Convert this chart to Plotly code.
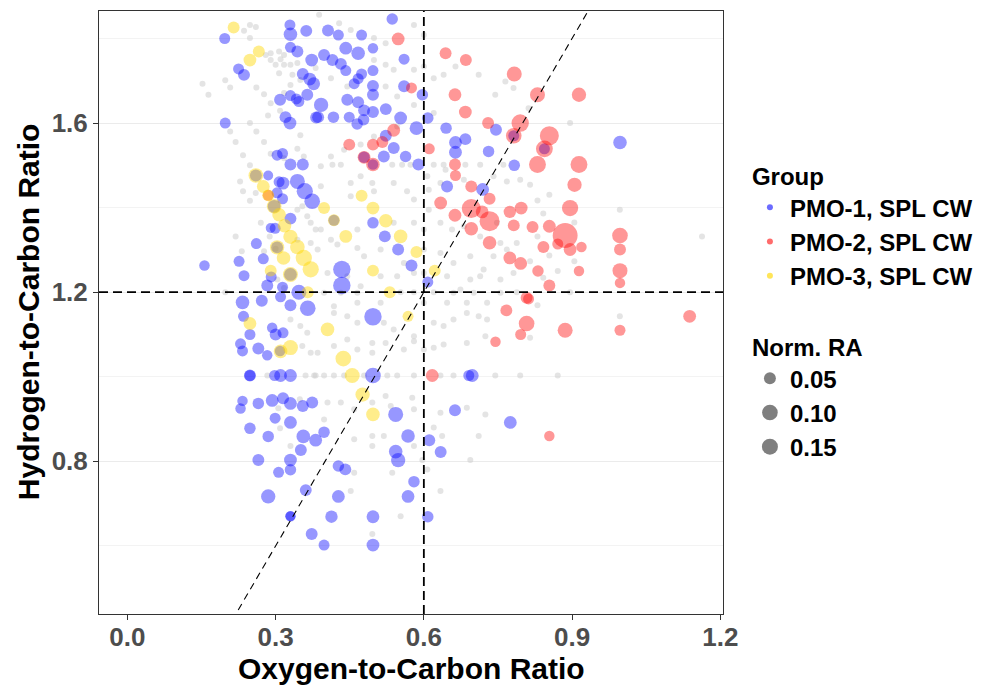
import math
import plotly.graph_objects as go

# ---------------- data ----------------
# background (all detected formulas), grey
bg_oc = [0.248, 0.260, 0.236, 0.248, 0.290, 0.307, 0.317, 0.280, 0.290, 0.310, 0.317, 0.300, 0.330, 0.344,
         0.334, 0.307, 0.350, 0.330, 0.317, 0.152, 0.164, 0.198, 0.208, 0.261, 0.2765, 0.290, 0.309, 0.2846,
         0.248, 0.208, 0.261, 0.219, 0.2765, 0.234, 0.290, 0.248, 0.317, 0.344, 0.350, 0.357, 0.228, 0.234,
         0.248, 0.2597, 0.270, 0.288, 0.219, 0.2315, 0.2765, 0.300, 0.3034, 0.317, 0.198, 0.344, 0.354, 0.364,
         0.371, 0.381, 0.344, 0.371,
         0.388, 0.4285, 0.452, 0.499, 0.5226, 0.580, 0.600, 0.499, 0.5226, 0.539, 0.580, 0.381, 0.412, 0.445,
         0.5226, 0.546, 0.600, 0.620, 0.640, 0.664, 0.711, 0.7445, 0.765, 0.7815, 0.580, 0.620, 0.546, 0.499,
         0.472, 0.4386, 0.412, 0.3915, 0.415, 0.432, 0.536, 0.556, 0.573, 0.620, 0.640, 0.684, 0.714, 0.761,
         0.452, 0.472, 0.4957, 0.539, 0.566, 0.607, 0.610, 0.6336, 0.644, 0.681, 0.741, 0.768, 0.795, 0.3915,
         0.452, 0.499, 0.580, 0.610, 0.6336, 0.657, 0.681, 0.714, 0.748, 0.755, 0.788, 0.3915, 0.412, 0.4655,
         0.539, 0.580, 0.600, 0.385, 0.425, 0.4655, 0.479, 0.5125, 0.5596, 0.600, 0.6336, 0.660, 0.694, 0.721,
         0.741, 0.768, 0.405, 0.445, 0.472, 0.5125, 0.546, 0.580, 0.600, 0.647, 0.674, 0.694, 0.714, 0.755,
         0.7815, 0.398, 0.432, 0.4655, 0.553, 0.580, 0.620, 0.660, 0.701, 0.755, 0.788, 0.418, 0.4655, 0.5125,
         0.600, 0.647, 0.687, 0.728,
         0.418, 0.445, 0.4655, 0.519, 0.539, 0.580, 0.620, 0.640, 0.660, 0.687, 0.711, 0.728, 0.385, 0.418,
         0.445, 0.4655, 0.4957, 0.4957, 0.5226, 0.5596, 0.580, 0.600, 0.620, 0.640, 0.687, 0.7245, 0.378,
         0.398, 0.418, 0.4386, 0.479, 0.526, 0.546, 0.580, 0.6336, 0.660, 0.7445, 0.795, 0.405, 0.432, 0.398,
         0.459, 0.4957, 0.5226, 0.533, 0.5765, 0.580, 0.6336, 0.687, 0.7245, 0.459, 0.4957, 0.519, 0.4957,
         0.580, 0.597, 0.620, 0.637, 0.711, 0.694, 0.459, 0.536, 0.607, 0.452, 0.6336, 0.553, 0.4957,
         0.330, 0.350, 0.364, 0.354, 0.371, 0.2832, 0.3606, 0.381, 0.3054, 0.309, 0.330, 0.349,
         0.812, 0.896, 0.815, 0.854, 0.830, 0.8417, 0.9046, 0.9967, 1.163, 0.830, 0.815, 0.871, 0.9046,
         0.8417, 0.896, 0.830, 0.854, 0.9967, 0.815, 0.871]
bg_hc = [1.832, 1.827, 1.818, 1.801, 1.765, 1.769, 1.761, 1.761, 1.749, 1.751, 1.738, 1.738, 1.738, 1.742,
         1.714, 1.718, 1.702, 1.690, 1.671, 1.693, 1.667, 1.701, 1.684, 1.684, 1.668, 1.647, 1.629, 1.618,
         1.600, 1.580, 1.580, 1.555, 1.555, 1.524, 1.5275, 1.500, 1.517, 1.539, 1.571, 1.521, 1.462, 1.4386,
         1.4165, 1.4346, 1.364, 1.332, 1.332, 1.297, 1.297, 1.303, 1.230, 1.210, 1.200, 1.395, 1.403, 1.3795,
         1.364, 1.348, 1.324, 1.3166,
         1.856, 1.836, 1.820, 1.801, 1.789, 1.832, 1.8085, 1.749, 1.738, 1.726, 1.726, 1.730, 1.706, 1.6865,
         1.6865, 1.663, 1.734, 1.706, 1.714, 1.734, 1.714, 1.667, 1.698, 1.683, 1.643, 1.6235, 1.592, 1.568,
         1.549, 1.537, 1.521, 1.4976, 1.5015, 1.5015, 1.5015, 1.5015, 1.5015, 1.5015, 1.5015, 1.5015, 1.5015, 1.5015,
         1.458, 1.474, 1.458, 1.458, 1.4386, 1.474, 1.4425, 1.458, 1.4897, 1.466, 1.474, 1.462, 1.466, 1.4504,
         1.4268, 1.4386, 1.419, 1.395, 1.364, 1.348, 1.356, 1.332, 1.364, 1.3166, 1.3166, 1.348, 1.324, 1.348,
         1.364, 1.364, 1.348, 1.3008, 1.3126, 1.3048, 1.285, 1.3008, 1.269, 1.3008, 1.293, 1.269, 1.285, 1.2536,
         1.285, 1.3008, 1.2457, 1.2379, 1.214, 1.2379, 1.2379, 1.2457, 1.2457, 1.2379, 1.2064, 1.230, 1.2379, 1.230,
         1.2457, 1.1985, 1.1985, 1.1985, 1.200, 1.200, 1.200, 1.1985, 1.1985, 1.1985, 1.200, 1.167, 1.175, 1.175,
         1.175, 1.175, 1.175, 1.175,
         1.151, 1.143, 1.128, 1.128, 1.112, 1.096, 1.128, 1.120, 1.1355, 1.151, 1.143, 1.1355, 1.057, 1.0726,
         1.088, 1.0647, 1.080, 1.057, 1.080, 1.0647, 1.084, 1.0647, 1.0686, 1.0765, 1.080, 1.096, 1.003,
         1.003, 1.003, 1.003, 1.003, 1.003, 1.003, 1.003, 1.003, 1.003, 1.003, 1.003, 0.939, 0.939, 0.899,
         0.923, 0.939, 0.9545, 0.931, 0.9506, 0.923, 0.915, 0.927, 0.911, 0.852, 0.860, 0.860, 0.8364,
         0.8364, 0.803, 0.880, 0.860, 0.860, 0.803, 0.773, 0.773, 0.781, 0.730, 0.730, 0.670, 0.628,
         1.1355, 1.120, 1.104, 1.0726, 1.057, 1.003, 1.003, 1.003, 0.9254, 0.878, 0.8364, 0.9466,
         1.635, 1.600, 1.454, 1.4307, 1.417, 1.386, 1.365, 1.395, 1.332, 1.332, 1.273, 1.250, 1.273,
         1.234, 1.200, 1.169, 1.2867, 1.143, 1.092, 1.003]

# PMO-1, SPL CW (blue)
pmo1_oc = [0.329, 0.330, 0.362, 0.197, 0.330, 0.344, 0.373, 0.225, 0.236, 0.355, 0.369, 0.377, 0.330, 0.342,
           0.347, 0.364, 0.309, 0.320, 0.329, 0.382, 0.198, 0.303, 0.314, 0.330, 0.355, 0.285, 0.260, 0.307,
           0.315, 0.344, 0.359, 0.374, 0.303, 0.314, 0.330, 0.290, 0.299, 0.297, 0.303, 0.330, 0.261, 0.275,
           0.226, 0.156, 0.236, 0.291, 0.283, 0.314, 0.347, 0.233, 0.272, 0.310, 0.330, 0.365, 0.235, 0.248,
           0.293, 0.300, 0.315, 0.229, 0.233, 0.265, 0.283, 0.309, 0.248, 0.248, 0.298, 0.310, 0.330, 0.233,
           0.229, 0.265, 0.293, 0.315, 0.330, 0.355, 0.374, 0.299, 0.330, 0.248, 0.285, 0.356, 0.381, 0.351,
           0.265, 0.330, 0.330, 0.306, 0.285, 0.361, 0.330, 0.330, 0.373, 0.497, 0.497, 0.543, 0.568, 0.398,
           0.543, 0.548, 0.427, 0.441, 0.580, 0.427, 0.568, 0.413, 0.497, 0.608, 0.398, 0.497, 0.611, 0.634,
           0.663, 0.775, 0.691, 0.698, 0.536, 0.406, 0.427, 0.474, 0.442, 0.467, 0.497, 0.398, 0.415, 0.432,
           0.442, 0.560, 0.497, 0.474, 0.467, 0.459, 0.497, 0.497, 0.560, 0.597, 0.445, 0.467, 0.392, 0.479,
           0.497, 0.523, 0.417, 0.449, 0.386, 0.478, 0.465, 0.553, 0.608, 0.585, 0.523, 0.539, 0.519, 0.563,
           0.589, 0.645, 0.664, 0.664, 0.684, 0.746, 0.731, 0.783, 0.647, 0.719, 0.497, 0.521, 0.548, 0.575,
           0.434, 0.434, 0.608, 0.418, 0.997, 0.844, 0.782, 0.479, 0.497]
pmo1_hc = [1.832, 1.810, 1.818, 1.800, 1.779, 1.769, 1.749, 1.728, 1.714, 1.716, 1.704, 1.693, 1.665, 1.657,
           1.651, 1.667, 1.655, 1.614, 1.600, 1.613, 1.600, 1.524, 1.528, 1.502, 1.502, 1.476, 1.476, 1.461,
           1.458, 1.462, 1.439, 1.415, 1.435, 1.421, 1.374, 1.352, 1.351, 1.403, 1.306, 1.242, 1.315, 1.279,
           1.273, 1.263, 1.239, 1.236, 1.216, 1.212, 1.200, 1.176, 1.180, 1.189, 1.169, 1.162, 1.143, 1.100,
           1.116, 1.100, 1.104, 1.078, 1.061, 1.067, 1.051, 1.061, 1.003, 1.003, 1.003, 1.003, 1.003, 0.943,
           0.925, 0.937, 0.944, 0.949, 0.937, 0.931, 0.939, 0.902, 0.892, 0.878, 0.859, 0.859, 0.850, 0.827,
           0.803, 0.803, 0.780, 0.774, 0.717, 0.732, 0.670, 0.670, 0.628, 1.142, 1.003, 0.911, 0.860, 0.869,
           0.823, 0.803, 0.789, 0.781, 0.752, 0.717, 0.717, 0.669, 0.669, 0.669, 0.602, 0.602, 0.850, 0.822,
           0.921, 0.892, 1.003, 1.003, 1.846, 1.819, 1.808, 1.808, 1.777, 1.765, 1.777, 1.761, 1.749, 1.740,
           1.724, 1.751, 1.724, 1.716, 1.705, 1.693, 1.688, 1.667, 1.687, 1.667, 1.655, 1.649, 1.643, 1.630,
           1.626, 1.633, 1.614, 1.614, 1.614, 1.608, 1.598, 1.612, 1.612, 1.588, 1.570, 1.541, 1.521, 1.521,
           1.502, 1.588, 1.554, 1.531, 1.562, 1.584, 1.533, 1.500, 1.450, 1.443, 1.364, 1.332, 1.301, 1.263,
           1.254, 1.216, 1.224, 1.370, 1.554, 1.539, 1.570, 1.519, 1.502]
pmo1_ra = [0.04, 0.07, 0.05, 0.04, 0.04, 0.05, 0.06, 0.04, 0.05, 0.05, 0.06, 0.06, 0.04, 0.04,
           0.04, 0.05, 0.05, 0.05, 0.06, 0.05, 0.04, 0.04, 0.04, 0.05, 0.05, 0.03, 0.05, 0.04,
           0.06, 0.09, 0.11, 0.10, 0.04, 0.04, 0.05, 0.03, 0.04, 0.06, 0.05, 0.06, 0.04, 0.04,
           0.04, 0.035, 0.04, 0.04, 0.05, 0.04, 0.09, 0.07, 0.05, 0.04, 0.05, 0.10, 0.04, 0.04,
           0.035, 0.05, 0.04, 0.04, 0.04, 0.05, 0.035, 0.035, 0.05, 0.04, 0.04, 0.06, 0.06, 0.035,
           0.035, 0.045, 0.06, 0.05, 0.06, 0.05, 0.05, 0.04, 0.06, 0.045, 0.045, 0.07, 0.06, 0.05,
           0.05, 0.06, 0.045, 0.04, 0.08, 0.05, 0.035, 0.03, 0.05, 0.13, 0.10, 0.09, 0.07, 0.045,
           0.07, 0.08, 0.045, 0.05, 0.045, 0.06, 0.06, 0.055, 0.06, 0.045, 0.04, 0.06, 0.05, 0.05,
           0.05, 0.06, 0.04, 0.06, 0.045, 0.05, 0.04, 0.04, 0.06, 0.07, 0.035, 0.05, 0.05, 0.05,
           0.04, 0.04, 0.04, 0.04, 0.04, 0.04, 0.05, 0.05, 0.05, 0.045, 0.05, 0.05, 0.08, 0.05,
           0.05, 0.05, 0.045, 0.04, 0.05, 0.045, 0.045, 0.06, 0.045, 0.07, 0.05, 0.05, 0.05, 0.045,
           0.05, 0.045, 0.06, 0.06, 0.05, 0.05, 0.045, 0.045, 0.05, 0.06, 0.045, 0.05, 0.05, 0.05,
           0.13, 0.13, 0.04, 0.04, 0.07, 0.04, 0.04, 0.045, 0.035]

# PMO-2, SPL CW (red)
pmo2_oc = [0.548, 0.644, 0.685, 0.783, 0.575, 0.663, 0.684, 0.730, 0.795, 0.782, 0.539, 0.449, 0.497, 0.516,
           0.479, 0.497, 0.611, 0.663, 0.664, 0.696, 0.733, 0.634, 0.696, 0.718, 0.733, 0.663, 0.696, 0.733,
           0.774, 0.797, 0.782, 0.774, 0.796, 0.808, 0.767, 0.830, 0.914, 0.854, 0.844, 0.830, 0.914, 0.905,
           0.896, 0.820, 0.854, 0.886, 0.842, 0.871, 0.896, 0.919, 0.997, 0.997, 0.831, 0.914, 0.997, 0.997,
           0.854, 0.812, 0.808, 0.886, 0.997, 1.138, 0.854, 0.617, 0.745, 0.796, 0.285]
pmo2_hc = [1.799, 1.765, 1.749, 1.716, 1.683, 1.667, 1.626, 1.600, 1.600, 1.570, 1.583, 1.549, 1.549, 1.555,
           1.519, 1.502, 1.539, 1.502, 1.476, 1.450, 1.421, 1.411, 1.398, 1.390, 1.368, 1.382, 1.350, 1.317,
           1.390, 1.399, 1.358, 1.281, 1.268, 1.187, 1.157, 1.667, 1.667, 1.570, 1.539, 1.502, 1.502, 1.454,
           1.399, 1.354, 1.356, 1.334, 1.307, 1.314, 1.301, 1.307, 1.334, 1.301, 1.250, 1.250, 1.251, 1.222,
           1.216, 1.184, 1.126, 1.110, 1.110, 1.143, 0.860, 1.003, 1.083, 1.100, 1.429]
pmo2_ra = [0.06, 0.05, 0.05, 0.09, 0.04, 0.06, 0.06, 0.05, 0.13, 0.10, 0.06, 0.05, 0.05, 0.05,
           0.06, 0.07, 0.04, 0.05, 0.04, 0.05, 0.05, 0.06, 0.16, 0.06, 0.18, 0.06, 0.07, 0.07,
           0.055, 0.06, 0.05, 0.06, 0.06, 0.05, 0.05, 0.09, 0.08, 0.16, 0.12, 0.12, 0.12, 0.08,
           0.11, 0.05, 0.06, 0.30, 0.05, 0.04, 0.06, 0.035, 0.10, 0.05, 0.045, 0.035, 0.09, 0.035,
           0.05, 0.04, 0.10, 0.09, 0.04, 0.06, 0.035, 0.06, 0.035, 0.04, 0.04]

# PMO-3, SPL CW (yellow)
pmo3_oc = [0.215, 0.266, 0.248, 0.260, 0.275, 0.285, 0.297, 0.307, 0.318, 0.330, 0.344, 0.357, 0.371, 0.303,
           0.316, 0.330, 0.290, 0.365, 0.248, 0.310, 0.330, 0.568, 0.405, 0.437, 0.455, 0.476, 0.497, 0.474,
           0.398, 0.418, 0.497, 0.523, 0.442, 0.553, 0.585, 0.497, 0.531, 0.622]
pmo3_hc = [1.826, 1.769, 1.749, 1.476, 1.450, 1.429, 1.403, 1.383, 1.357, 1.331, 1.307, 1.281, 1.254, 1.306,
           1.281, 1.242, 1.251, 1.200, 1.126, 1.060, 1.069, 1.143, 1.112, 1.043, 1.003, 0.958, 0.911, 1.428,
           1.399, 1.370, 1.399, 1.369, 1.332, 1.332, 1.295, 1.251, 1.200, 1.251]
pmo3_ra = [0.05, 0.05, 0.06, 0.085, 0.06, 0.05, 0.085, 0.07, 0.07, 0.08, 0.085, 0.11, 0.11, 0.08,
           0.07, 0.09, 0.05, 0.05, 0.06, 0.07, 0.09, 0.04, 0.07, 0.10, 0.09, 0.08, 0.07, 0.05,
           0.05, 0.05, 0.06, 0.07, 0.06, 0.07, 0.05, 0.05, 0.05, 0.05]

group_names = ["PMO-1, SPL CW", "PMO-2, SPL CW", "PMO-3, SPL CW"]
size_breaks = [0.05, 0.10, 0.15]
x_ticks = [0.0, 0.3, 0.6, 0.9, 1.2]
y_ticks = [0.8, 1.2, 1.6]
ref_oc = 0.6      # vertical reference line
ref_hc = 1.2      # horizontal reference line
ref_slope = 2.0   # H/C = 2 * O/C

# ---------------- styling ----------------
X_RANGE = [-0.0575, 1.2055]
Y_RANGE = [0.439, 1.865]
FONT = "Liberation Sans, Arial, sans-serif"
colors = ["rgba(0,0,255,0.58)", "rgba(255,0,0,0.58)", "rgba(255,215,0,0.65)"]


def diam(ra):
    # size scale: sqrt(RA) rescaled onto a pixel range (like ggplot scale_size)
    return 3.0 + 40.0 * math.sqrt(ra)


fig = go.Figure()
fig.add_trace(go.Scatter(x=bg_oc, y=bg_hc, mode="markers",
                         marker=dict(size=6, color="rgba(205,205,205,0.55)", line=dict(width=0)),
                         showlegend=False, hoverinfo="skip"))

series = [(pmo1_oc, pmo1_hc, pmo1_ra), (pmo2_oc, pmo2_hc, pmo2_ra), (pmo3_oc, pmo3_hc, pmo3_ra)]
for (xs, ys, ras), col, nm in zip(series, colors, group_names):
    fig.add_trace(go.Scatter(x=xs, y=ys, mode="markers", name=nm,
                             marker=dict(size=[diam(r) for r in ras], color=col, line=dict(width=0)),
                             showlegend=False))

# diagonal reference line
fig.add_trace(go.Scatter(x=X_RANGE, y=[ref_slope * v for v in X_RANGE], mode="lines",
                         line=dict(color="black", width=1.1, dash="7px,5px"),
                         showlegend=False, hoverinfo="skip"))
fig.add_vline(x=ref_oc, line=dict(color="black", width=1.8, dash="9px,5px"))
fig.add_hline(y=ref_hc, line=dict(color="black", width=1.8, dash="9px,5px"))

# legend entries
for nm, col in zip(group_names, colors):
    fig.add_trace(go.Scatter(x=[None], y=[None], mode="markers", name=nm, legend="legend",
                             legendgroup=nm,
                             marker=dict(size=6, color=col)))
for b in size_breaks:
    fig.add_trace(go.Scatter(x=[None], y=[None], mode="markers", name=f"{b:.2f}", legend="legend2",
                             legendgroup=f"s{b}",
                             marker=dict(size=diam(b), color="rgba(0,0,0,0.5)")))

L, R, T, B = 99, 264, 11, 72
W, H = 989, 686
pw, ph = W - L - R, H - T - B


def px_x(p):
    return (p - L) / pw


def px_y(p):
    return (H - B - p) / ph


fig.update_layout(
    width=W, height=H,
    margin=dict(l=L, r=R, t=T, b=B, pad=0),
    paper_bgcolor="white", plot_bgcolor="white",
    font=dict(family=FONT, color="black"),
    xaxis=dict(range=X_RANGE, autorange=False, tickvals=x_ticks, ticktext=[f"{v:.1f}" for v in x_ticks],
               ticks="outside", ticklen=5, tickwidth=1, tickcolor="#333333", ticklabelstandoff=-5,
               tickfont=dict(size=26, color="#4D4D4D", family=FONT, weight="bold"),
               showgrid=False, zeroline=False, showline=True, mirror=True,
               linecolor="#333333", linewidth=1),
    yaxis=dict(range=Y_RANGE, autorange=False, tickvals=y_ticks, ticktext=[f"{v:.1f}" for v in y_ticks],
               ticks="outside", ticklen=5, tickwidth=1, tickcolor="#333333",
               tickfont=dict(size=26, color="#4D4D4D", family=FONT, weight="bold"),
               showgrid=True, gridcolor="#EBEBEB", gridwidth=1,
               minor=dict(showgrid=True, dtick=0.2, tick0=0.0, gridcolor="#F3F3F3", gridwidth=1),
               zeroline=False, showline=True, mirror=True, linecolor="#333333", linewidth=1),
    legend=dict(x=px_x(752), y=px_y(154), xanchor="left", yanchor="top",
                title=dict(text="Group", font=dict(size=24, family=FONT, weight="bold")),
                font=dict(size=24, family=FONT, weight="bold"),
                itemsizing="trace", tracegroupgap=0, bgcolor="rgba(0,0,0,0)"),
    legend2=dict(x=px_x(752), y=px_y(325), xanchor="left", yanchor="top",
                 title=dict(text="Norm. RA", font=dict(size=24, family=FONT, weight="bold")),
                 font=dict(size=24, family=FONT, weight="bold"),
                 itemsizing="trace", tracegroupgap=0, bgcolor="rgba(0,0,0,0)"),
    annotations=[
        dict(text="Oxygen-to-Carbon Ratio", xref="paper", yref="paper", x=0.5, y=px_y(668),
             xanchor="center", yanchor="middle", showarrow=False,
             font=dict(size=30, family=FONT, weight="bold", color="black")),
        dict(text="Hydrogen-to-Carbon Ratio", xref="paper", yref="paper", x=px_x(29), y=px_y(312),
             xanchor="center", yanchor="middle", showarrow=False, textangle=-90,
             font=dict(size=30, family=FONT, weight="bold", color="black")),
    ],
)

fig.write_html("out.html")
